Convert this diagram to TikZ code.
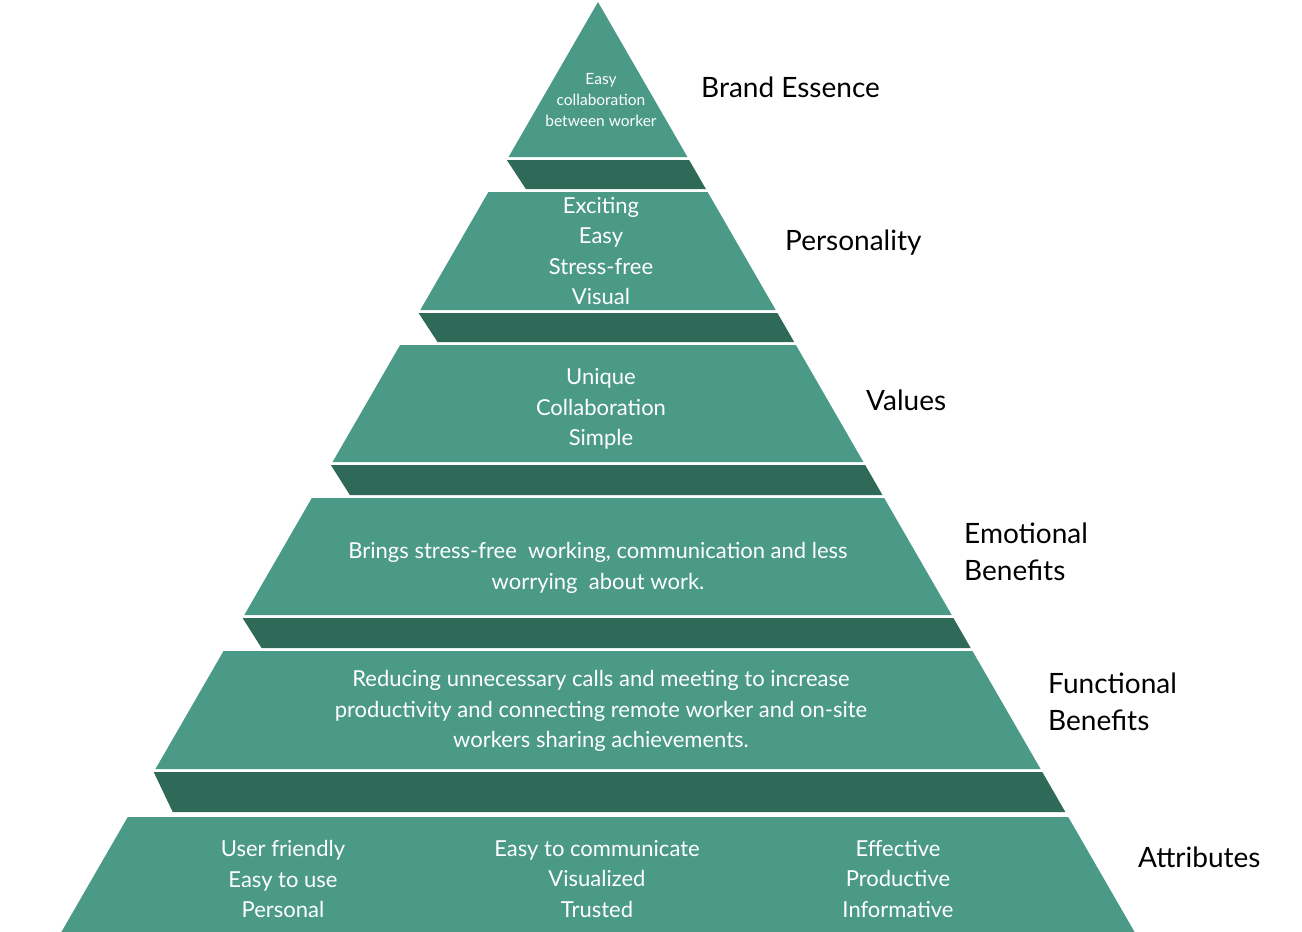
\documentclass[tikz,border=0pt]{standalone}
\usepackage{fontspec}
\setmainfont{Lato}
\definecolor{tealL}{HTML}{4A9A87}
\definecolor{tealD}{HTML}{2E6A57}
\newcommand\pyrlayer[2]{\fill[tealL] ({598-0.577*(#1-2)},#1) -- ({598+0.577*(#1-2)},#1) -- ({598+0.577*(#2-2)},#2) -- ({598-0.577*(#2-2)},#2) -- cycle;}
\newcommand\pyrband[2]{\fill[tealD] ({598-0.577*(#1-2)},#1) -- ({598+0.577*(#1-2)},#1) -- ({598+0.577*(#2-2)},#2) -- ({598-0.577*(#1-2)+19},#2) -- cycle;}
\begin{document}
\begin{tikzpicture}[x=1pt,y=-1pt,
  intext/.style={text=white,align=center,font=\fontsize{22}{30.5}\selectfont,inner sep=0pt},
  side/.style={text=black,align=left,anchor=west,font=\fontsize{28}{37}\selectfont,inner sep=0pt}]
\useasboundingbox (0,0) rectangle (1302,932);
\pyrlayer{2}{157}
\pyrband{160}{189}
\pyrlayer{192}{310}
\pyrband{313}{342}
\pyrlayer{345}{462}
\pyrband{465}{495}
\pyrlayer{498}{615}
\pyrband{618}{648}
\pyrlayer{651}{769}
\pyrband{772}{812}
\pyrlayer{817}{932}
\node[intext,font=\fontsize{15.5}{21}\selectfont] (t1) at (601,100) {Easy\\collaboration\\between worker};
\node[intext] (t2) at (601,251) {Exciting\\Easy\\Stress-free\\Visual};
\node[intext] (t3) at (601,409) {Unique\\Collaboration\\Simple};
\node[intext] (t4) at (598,568) {Brings stress-free\ \ working, communication and less\\worrying\ \ about work.};
\node[intext] (t5) at (601,711) {Reducing unnecessary calls and meeting to increase\\productivity and connecting remote worker and on-site\\workers sharing achievements.};
\node[intext] (t6a) at (283,879) {User friendly\\Easy to use\\Personal};
\node[intext] (t6b) at (597,879) {Easy to communicate\\Visualized\\Trusted};
\node[intext] (t6c) at (898,879) {Effective\\Productive\\Informative};
\node[side] (s1) at (701,87) {Brand Essence};
\node[side] (s2) at (785,243) {Personality};
\node[side] (s3) at (866,400) {Values};
\node[side] (s4) at (964,552) {Emotional\\Benefits};
\node[side] (s5) at (1048,702) {Functional\\Benefits};
\node[side] (s6) at (1138,857) {Attributes};
\end{tikzpicture}
\end{document}
